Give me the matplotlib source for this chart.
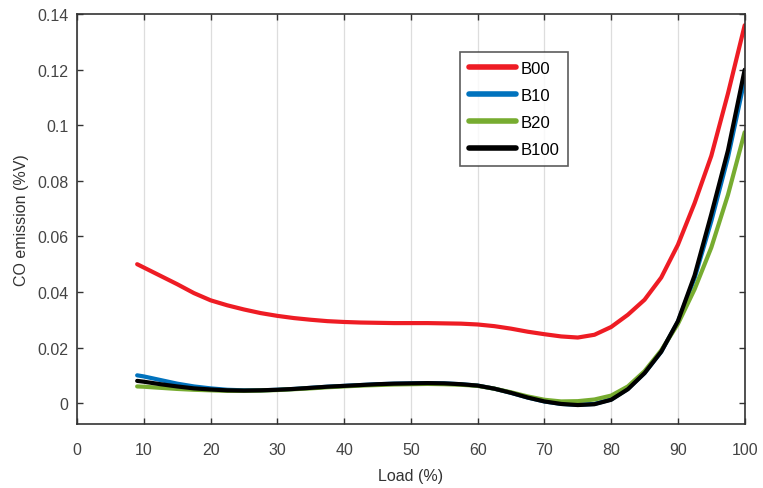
import matplotlib
matplotlib.use("Agg")
import matplotlib.pyplot as plt
from matplotlib.ticker import FuncFormatter, MultipleLocator

plt.rcParams['font.family'] = ['Liberation Sans', 'DejaVu Sans']

# Load points (%)
load = [9, 10, 12.5, 15, 17.5, 20, 22.5, 25, 27.5, 30, 32.5, 35, 37.5, 40,
        42.5, 45, 47.5, 50, 52.5, 55, 57.5, 60, 62.5, 65, 67.5, 70, 72.5, 75,
        77.5, 80, 82.5, 85, 87.5, 90, 92.5, 95, 97.5, 100]

# CO emission (%V) per fuel blend
b00 = [0.0500, 0.0488, 0.0458, 0.0428, 0.0396, 0.0370, 0.0352, 0.0337, 0.0324,
       0.0314, 0.0306, 0.0300, 0.0295, 0.0292, 0.0290, 0.0289, 0.0288, 0.0288,
       0.0288, 0.0287, 0.0286, 0.0283, 0.0277, 0.0268, 0.0257, 0.0248, 0.0240,
       0.0236, 0.0246, 0.0274, 0.0318, 0.0372, 0.0452, 0.0570, 0.0720, 0.0890,
       0.1115, 0.1360]
b10 = [0.0100, 0.0096, 0.0083, 0.0070, 0.0060, 0.0053, 0.0048, 0.0046, 0.0046,
       0.0048, 0.0051, 0.0055, 0.0059, 0.0062, 0.0065, 0.0068, 0.0070, 0.0071,
       0.0072, 0.0071, 0.0068, 0.0063, 0.0052, 0.0037, 0.0020, 0.0006, -0.0003,
       -0.0006, -0.0003, 0.0013, 0.0051, 0.0108, 0.0185, 0.0293, 0.0450, 0.0655,
       0.0885, 0.1165]
b20 = [0.0060, 0.0059, 0.0055, 0.0051, 0.0048, 0.0046, 0.0044, 0.0044, 0.0045,
       0.0047, 0.0050, 0.0053, 0.0057, 0.0060, 0.0063, 0.0065, 0.0067, 0.0068,
       0.0069, 0.0068, 0.0066, 0.0062, 0.0052, 0.0039, 0.0024, 0.0012, 0.0006,
       0.0007, 0.0013, 0.0027, 0.0060, 0.0115, 0.0190, 0.0285, 0.0410, 0.0560,
       0.0750, 0.0975]
b100 = [0.0080, 0.0077, 0.0068, 0.0060, 0.0053, 0.0049, 0.0046, 0.0045, 0.0046,
        0.0048, 0.0051, 0.0055, 0.0059, 0.0062, 0.0065, 0.0068, 0.0070, 0.0071,
        0.0072, 0.0071, 0.0068, 0.0063, 0.0052, 0.0037, 0.0020, 0.0006, -0.0003,
        -0.0007, -0.0004, 0.0012, 0.0050, 0.0108, 0.0185, 0.0295, 0.0460, 0.0680,
        0.0910, 0.1200]

series = [("B00", b00, "#ee1c24"),
          ("B10", b10, "#0072bd"),
          ("B20", b20, "#77ac30"),
          ("B100", b100, "#000000")]

fig = plt.figure(figsize=(7.63, 4.89), dpi=100)
ax = fig.add_axes([0.101, 0.131, 0.875, 0.838])

for name, vals, color in series:
    ax.plot(load, vals, color=color, linewidth=3, label=name,
            solid_capstyle='round', solid_joinstyle='round')

ax.set_xlim(0, 100)
ax.set_ylim(-0.0075, 0.14)
ax.xaxis.set_major_locator(MultipleLocator(10))
ax.yaxis.set_major_locator(MultipleLocator(0.02))
ax.yaxis.set_major_formatter(FuncFormatter(lambda v, p: f"{v:g}" if abs(v) > 1e-9 else "0"))

ax.grid(axis='x', color='#dddddd', linewidth=0.9)
ax.set_axisbelow(True)
ax.tick_params(direction='in', top=True, right=True, length=4, width=1,
               labelsize=11.5, colors='#333333', labelcolor='#444444')
ax.tick_params(axis='x', pad=13)
ax.tick_params(axis='y', pad=6)
for sp in ax.spines.values():
    sp.set_color('#333333')
    sp.set_linewidth(1.2)

ax.set_xlabel("Load (%)", fontsize=11.5, color='#333333', labelpad=8)
ax.set_ylabel("CO emission (%V)", fontsize=11.5, color='#333333', labelpad=6)

leg = ax.legend(loc='upper left', bbox_to_anchor=(0.574, 0.908), fontsize=12,
                frameon=True, fancybox=False, edgecolor='#333333',
                handlelength=2.8, handletextpad=0.25, labelspacing=0.72,
                borderpad=0.55, borderaxespad=0)
leg.get_frame().set_linewidth(1.2)
for line in leg.get_lines():
    line.set_linewidth(4)

fig.savefig("out.png", dpi=100)
